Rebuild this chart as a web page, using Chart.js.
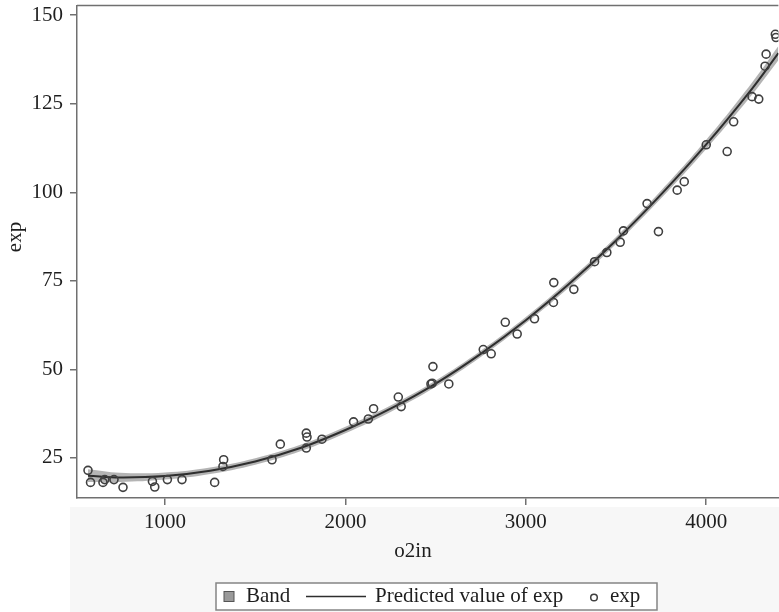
<!DOCTYPE html>
<html>
<head>
<meta charset="utf-8">
<script src="https://cdn.jsdelivr.net/npm/chart.js@4.4.1/dist/chart.umd.min.js"></script>
<style>
  html, body { margin: 0; padding: 0; background: #fff; overflow: hidden; }
  #wrap { position: relative; width: 779px; height: 612px; overflow: hidden; }
</style>
</head>
<body>
<div id="wrap"><canvas id="expChart" width="784" height="612"></canvas></div>
<script>
const xTicks = [1000, 2000, 3000, 4000];
const yTicks = [25, 50, 75, 100, 125, 150];

// observed values
const o2in = [573, 587, 656, 666, 717, 767, 930, 943, 1013, 1094,
  1275, 1321, 1325, 1593, 1639, 1783, 1787, 1783, 1870, 2045,
  2127, 2156, 2293, 2309, 2474, 2481, 2485, 2573, 2764, 2808,
  2886, 2952, 3048, 3153, 3155, 3266, 3381, 3449, 3523, 3541,
  3672, 3735, 3839, 3878, 4000, 4116, 4152, 4254, 4291, 4326,
  4332, 4383, 4387];
const expObs = [21.5, 18.1, 18.1, 18.9, 18.9, 16.7, 18.4, 16.8, 18.9, 18.9,
  18.1, 22.6, 24.5, 24.5, 28.9, 27.8, 30.9, 32.0, 30.3, 35.2,
  36.0, 38.9, 42.2, 39.5, 45.9, 46.1, 50.8, 45.9, 55.6, 54.4,
  63.3, 60.0, 64.3, 68.9, 74.5, 72.6, 80.4, 83.0, 85.9, 89.1,
  96.8, 88.9, 100.6, 103.0, 113.4, 111.5, 119.9, 127.0, 126.3, 135.6,
  139.0, 144.6, 143.7];

// predicted curve and confidence band
const fitX = [573, 750, 1000, 1250, 1500, 1750, 2000, 2250, 2500, 2750, 3000, 3250, 3500, 3750, 4000, 4250, 4400];
const fitY = [20.0, 19.5, 19.9, 21.4, 24.0, 27.8, 32.9, 38.9, 46.0, 54.4, 63.9, 74.6, 86.4, 99.4, 113.5, 129.0, 139.3];
const bandLo = [18.2, 18.2, 18.9, 20.5, 23.1, 26.9, 32.0, 38.0, 45.1, 53.5, 63.0, 73.6, 85.4, 98.3, 112.2, 127.3, 137.3];
const bandHi = [21.8, 20.8, 20.9, 22.3, 24.9, 28.7, 33.8, 39.8, 46.9, 55.3, 64.8, 75.6, 87.4, 100.5, 114.8, 130.7, 141.3];

const pairs = (xs, ys) => xs.map((x, i) => ({ x: x, y: ys[i] }));

const FONT = "'Liberation Serif', 'DejaVu Serif', serif";
const TEXT = '#1e1e1e';
const FRAME = '#707070';

const figureDecor = {
  id: 'figureDecor',
  beforeDraw(chart) {
    const { ctx, chartArea: a, width, height } = chart;
    ctx.save();
    ctx.fillStyle = '#ffffff';
    ctx.fillRect(0, 0, width, height);
    ctx.fillStyle = '#f7f7f7';
    ctx.fillRect(a.left - 7, a.bottom + 9, width, height);
    ctx.restore();
  },
  afterDraw(chart) {
    const { ctx, chartArea: a } = chart;
    const ds = chart.data.datasets;
    ctx.save();

    // top edge of the frame
    ctx.strokeStyle = FRAME;
    ctx.lineWidth = 1.5;
    ctx.beginPath();
    ctx.moveTo(a.left, a.top);
    ctx.lineTo(a.right, a.top);
    ctx.stroke();

    // axis titles
    ctx.fillStyle = TEXT;
    ctx.font = '21px ' + FONT;
    ctx.textAlign = 'center';
    ctx.textBaseline = 'middle';
    ctx.fillText('o2in', 413, 551);
    ctx.save();
    ctx.translate(15, 237);
    ctx.rotate(-Math.PI / 2);
    ctx.fillText('exp', 0, 0);
    ctx.restore();

    // legend
    const lx = 216, ly = 583, lw = 441, lh = 27, cy = ly + lh / 2;
    ctx.fillStyle = '#ffffff';
    ctx.fillRect(lx, ly, lw, lh);
    ctx.strokeStyle = '#858585';
    ctx.lineWidth = 1.5;
    ctx.strokeRect(lx, ly, lw, lh);

    ctx.textAlign = 'left';
    ctx.fillStyle = '#9a9a9a';
    ctx.fillRect(224, cy - 5, 10, 10);
    ctx.strokeStyle = '#555';
    ctx.lineWidth = 1;
    ctx.strokeRect(224, cy - 5, 10, 10);
    ctx.fillStyle = TEXT;
    ctx.fillText(ds[2].label, 246, cy);

    ctx.strokeStyle = ds[1].borderColor;
    ctx.lineWidth = 1.5;
    ctx.beginPath();
    ctx.moveTo(306, cy);
    ctx.lineTo(366, cy);
    ctx.stroke();
    ctx.fillText(ds[1].label, 375, cy);

    ctx.strokeStyle = ds[0].borderColor;
    ctx.lineWidth = 1.5;
    ctx.beginPath();
    ctx.arc(594, cy + 1, 3.3, 0, Math.PI * 2);
    ctx.stroke();
    ctx.fillText(ds[0].label, 610, cy);

    ctx.restore();
  }
};

const noPad = s => { s.paddingLeft = 0; s.paddingRight = 0; s.paddingTop = 0; s.paddingBottom = 0; };

new Chart(document.getElementById('expChart'), {
  type: 'scatter',
  data: {
    datasets: [
      {
        label: 'exp',
        data: pairs(o2in, expObs),
        pointStyle: 'circle',
        pointRadius: 4,
        pointBackgroundColor: 'rgba(0,0,0,0)',
        borderColor: '#404040',
        pointBorderWidth: 1.6
      },
      {
        label: 'Predicted value of exp',
        data: pairs(fitX, fitY),
        showLine: true,
        borderColor: '#2e2e2e',
        borderWidth: 2,
        pointRadius: 0,
        tension: 0.4
      },
      {
        label: 'Band',
        data: pairs(fitX, bandHi),
        showLine: true,
        borderWidth: 0,
        borderColor: 'rgba(0,0,0,0)',
        backgroundColor: 'rgba(130,130,130,0.6)',
        pointRadius: 0,
        tension: 0.4,
        fill: '+1'
      },
      {
        label: 'Band lower',
        data: pairs(fitX, bandLo),
        showLine: true,
        borderWidth: 0,
        borderColor: 'rgba(0,0,0,0)',
        pointRadius: 0,
        tension: 0.4,
        fill: false
      }
    ]
  },
  options: {
    responsive: false,
    animation: false,
    events: [],
    layout: { padding: { top: 5, right: 0, bottom: 0, left: 0 } },
    plugins: {
      legend: { display: false },
      tooltip: { enabled: false }
    },
    scales: {
      x: {
        type: 'linear',
        min: 512,
        max: 4400,
        afterBuildTicks: s => { s.ticks = xTicks.map(v => ({ value: v })); },
        afterFit: s => { noPad(s); s.height = 114; },
        ticks: {
          font: { family: FONT, size: 21 }, color: TEXT, padding: 5, maxRotation: 0,
          callback: v => String(v)
        },
        grid: { drawOnChartArea: false, tickLength: 7, color: FRAME, lineWidth: 1.5 },
        border: { color: FRAME, width: 1.5 }
      },
      y: {
        type: 'linear',
        min: 13.7,
        max: 152.7,
        afterBuildTicks: s => { s.ticks = yTicks.map(v => ({ value: v })); },
        afterFit: s => { noPad(s); s.width = 77; },
        ticks: {
          font: { family: FONT, size: 21 }, color: TEXT, padding: 7,
          callback: v => String(v)
        },
        grid: { drawOnChartArea: false, tickLength: 7, color: FRAME, lineWidth: 1.5 },
        border: { color: FRAME, width: 1.5 }
      }
    }
  },
  plugins: [figureDecor]
});
</script>
</body>
</html>
